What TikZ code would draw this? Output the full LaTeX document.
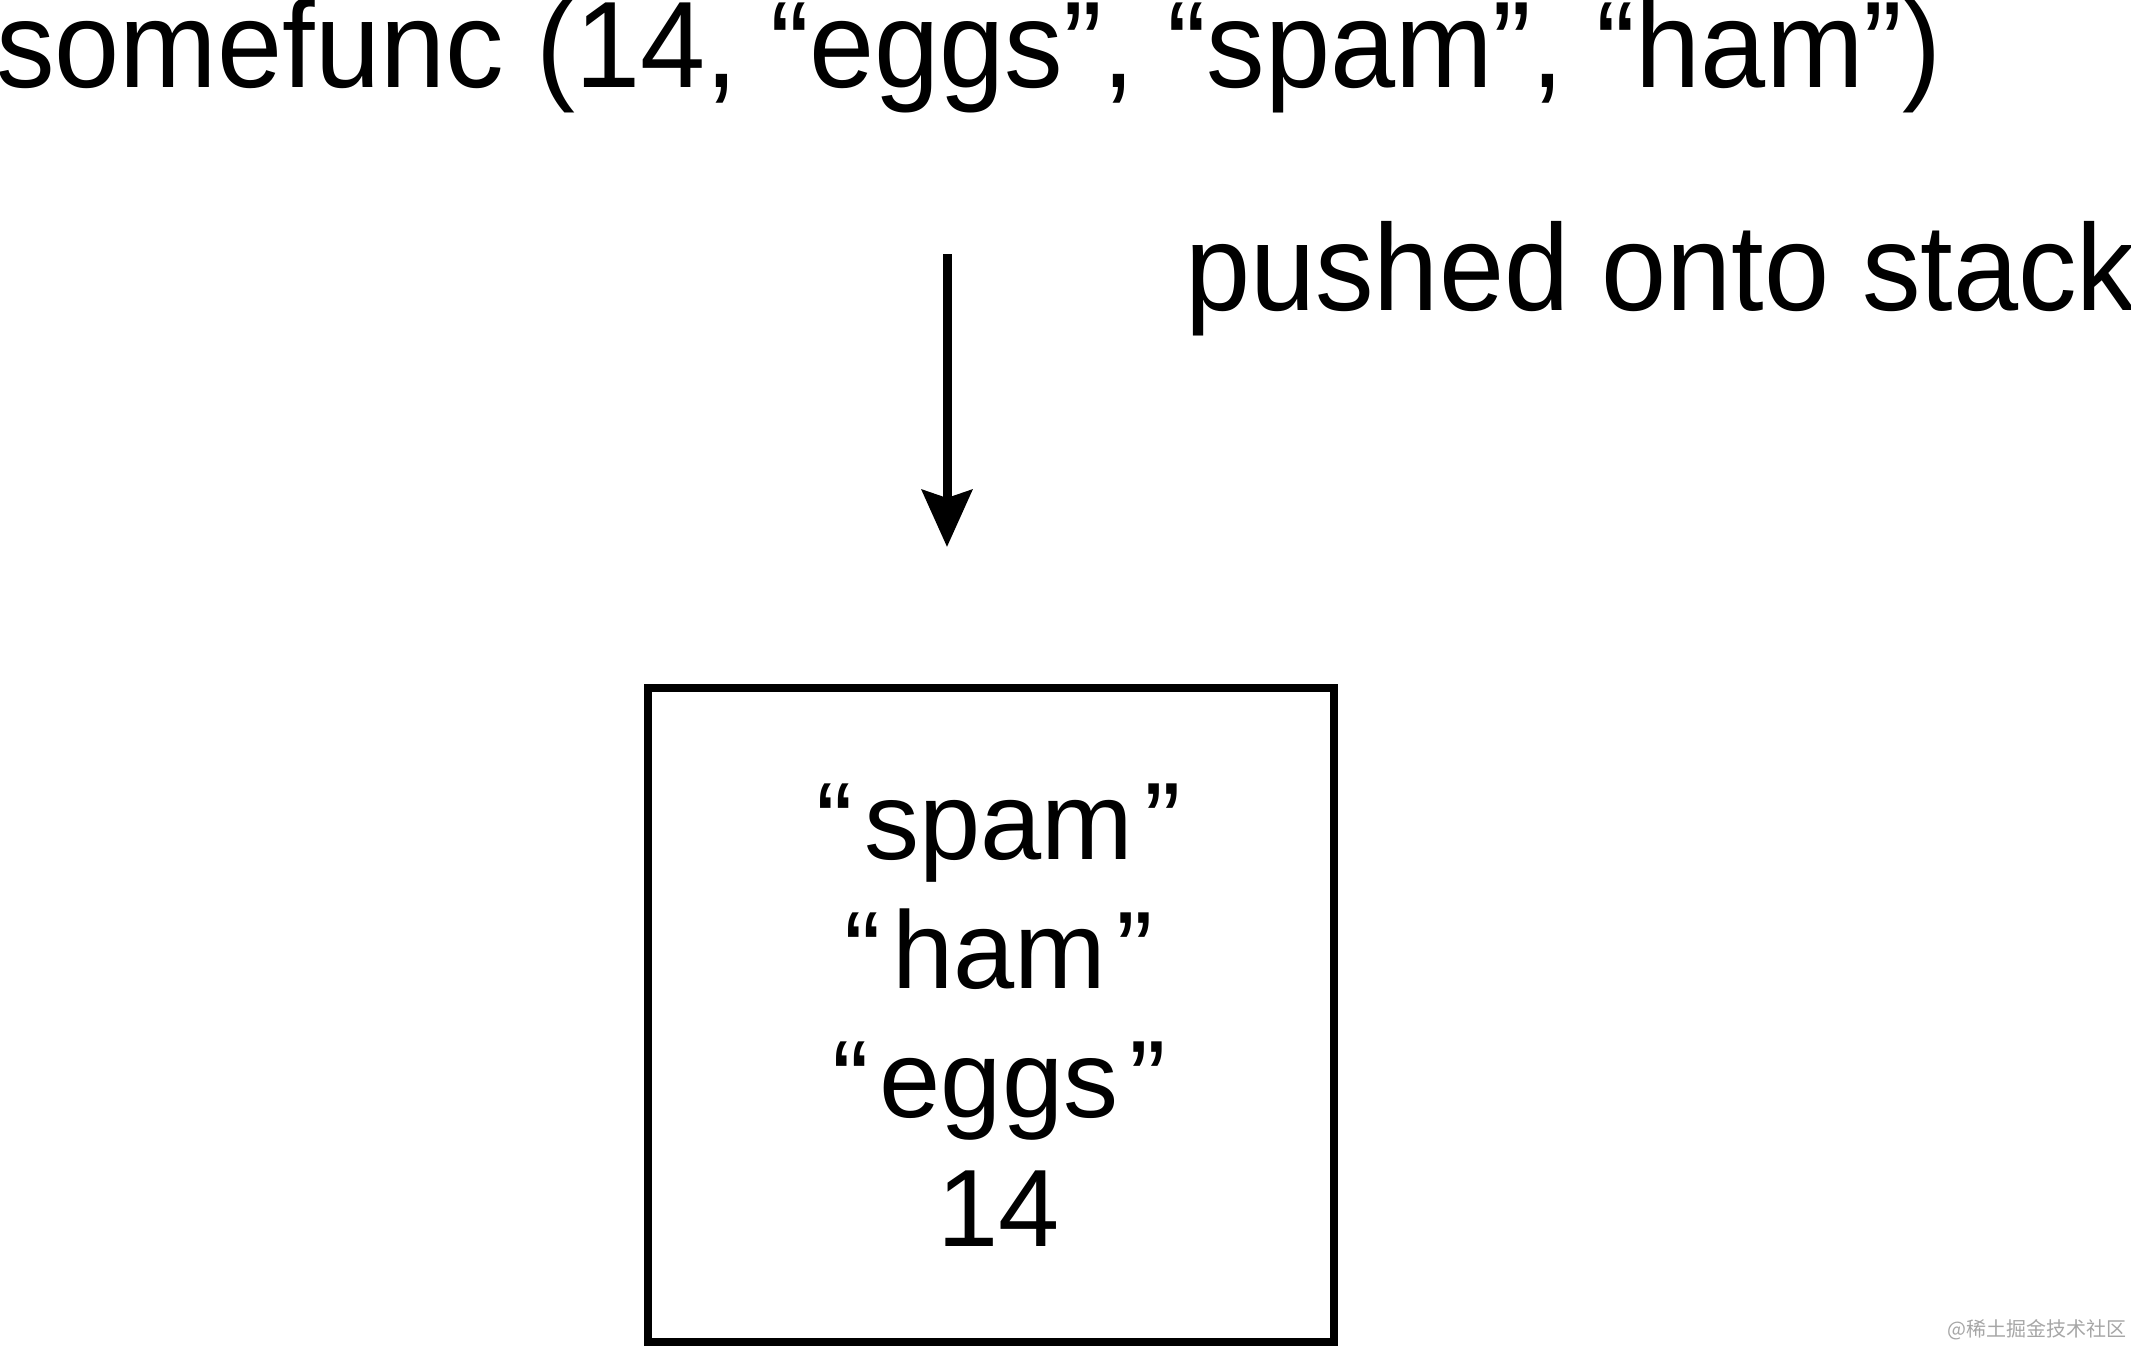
\documentclass[tikz,border=0pt]{standalone}
\usepackage{fontspec}
\setmainfont{Liberation Sans}
\newfontfamily\cjk{Noto Sans CJK SC}
\usetikzlibrary{arrows.meta}
\newcommand{\narrowtxt}[1]{\scalebox{0.952}[1]{#1}}
\newcommand{\qline}[1]{\hspace*{16pt}“\kern11pt #1\kern11pt ”}
\tikzset{
  bigtext/.style={inner sep=0pt, font=\fontsize{123}{140}\selectfont},
  stackbox/.style={draw, line width=8pt, minimum width=686pt, minimum height=654pt, inner sep=0pt, align=center, font=\fontsize{110}{129}\selectfont},
  pusharrow/.style={line width=9pt, -{Stealth[length=57pt, width=50pt, inset=8pt]}},
  wmark/.style={inner sep=0pt, text=black!35, font=\cjk\fontsize{20}{24}\selectfont}
}
\begin{document}
\begin{tikzpicture}[x=1pt,y=-1pt]
\useasboundingbox (0,0) rectangle (2131,1347);
\node[bigtext, anchor=base west] (call) at (-4,87) {\narrowtxt{somefunc (14, “eggs”, “spam”, “ham”)}};
\node[bigtext, anchor=base west] (label) at (1185,310) {\narrowtxt{pushed onto stack}};
\coordinate (astart) at (947,254);
\coordinate (aend) at (947,547);
\draw[pusharrow] (astart) -- (aend);
\node[stackbox] (stack) at (991,1015) {\qline{spam}\\\qline{ham}\\\qline{eggs}\\\hspace*{16pt}14};
\node[wmark, anchor=base east] (wm) at (2127,1336) {@稀土掘金技术社区};
\end{tikzpicture}
\end{document}
